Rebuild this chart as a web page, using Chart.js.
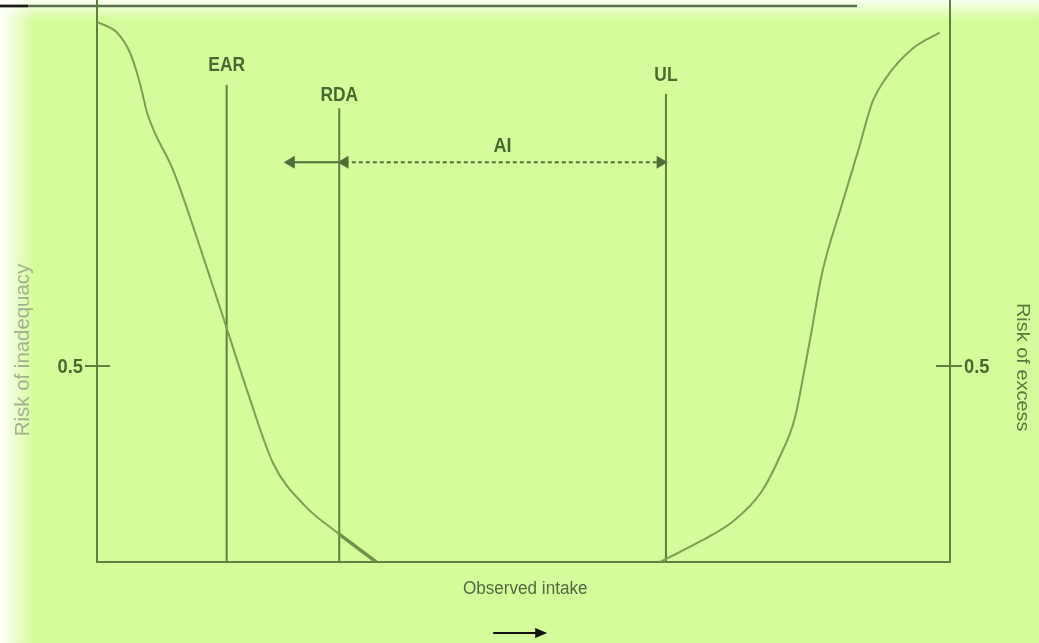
<!DOCTYPE html>
<html>
<head>
<meta charset="utf-8">
<script src="https://cdn.jsdelivr.net/npm/chart.js@4/dist/chart.umd.min.js"></script>
<style>
  body { margin: 0; background: #d5fc9a; }
  #wrap { width: 1039px; height: 643px; position: relative; }
</style>
</head>
<body>
<div id="wrap"><canvas id="chart"></canvas></div>
<script>
// intake runs 0..100 across the box, risk 0..~1.43 up it
const inadequacyX = [0, 2.34, 3.92, 5.1, 5.89, 9.05, 12.6, 15.17, 17.73, 20.69, 24.44, 28.39];
const inadequacyY = [1.378, 1.351, 1.297, 1.216, 1.145, 0.993, 0.769, 0.599, 0.429, 0.25, 0.142, 0.071];
const tailX = [28.39, 32.73];
const tailY = [0.071, 0];
const excessX = [66.0, 70.75, 74.7, 77.86, 79.84, 81.8, 82.79, 83.78, 84.96, 87.33, 89.31, 90.88, 92.46, 95.62, 98.78];
const excessY = [0, 0.053, 0.106, 0.178, 0.259, 0.366, 0.473, 0.59, 0.733, 0.912, 1.055, 1.172, 1.234, 1.31, 1.351];

const refNames = ['EAR', 'RDA', 'UL'];
const refX = [15.2, 28.4, 66.7];
const refTop = [1.217, 1.158, 1.194];
const refLabelY = [1.268, 1.19, 1.242];

const aiLabel = 'AI';
const aiY = 1.02;
const aiLabelY = 1.061;
const leftArrowEnd = 22.1;
const riskTick = 0.5;
const xTitle = 'Observed intake';
const leftTitle = 'Risk of inadequacy';
const rightTitle = 'Risk of excess';

const lineCol = '#5d7f42';
const curveCol = '#76a253';
const textCol = '#4a6830';
const headInset = 0.65;
const FONT = '"Liberation Sans", Arial, sans-serif';

const pts = (xs, ys) => xs.map((x, i) => ({ x: x, y: ys[i] }));

// text squeezed sideways, the source uses a narrow face
function narrowText(ctx, txt, x, y, sx) {
  ctx.save();
  ctx.translate(x, y);
  ctx.scale(sx, 1);
  ctx.fillText(txt, 0, 0);
  ctx.restore();
}

const refSets = refNames.map((n, i) => ({
  label: n,
  data: [{ x: refX[i], y: 0 }, { x: refX[i], y: refTop[i] }],
  showLine: true,
  borderColor: lineCol, borderWidth: 2, pointRadius: 0
}));

const backdrop = {
  id: 'backdrop',
  beforeDraw(chart) {
    const ctx = chart.ctx, w = chart.width, h = chart.height;
    ctx.save();
    ctx.fillStyle = '#d5fc9a';
    ctx.fillRect(0, 0, w, h);
    let g = ctx.createLinearGradient(0, 0, 0, 20);
    g.addColorStop(0, 'rgba(255,255,255,0.85)');
    g.addColorStop(1, 'rgba(255,255,255,0)');
    ctx.fillStyle = g;
    ctx.fillRect(0, 0, w, 20);
    g = ctx.createLinearGradient(0, 0, 34, 0);
    g.addColorStop(0, 'rgba(255,255,255,0.95)');
    g.addColorStop(1, 'rgba(255,255,255,0)');
    ctx.fillStyle = g;
    ctx.fillRect(0, 0, 34, h);
    // rule across the top
    ctx.strokeStyle = '#5c6e4c';
    ctx.lineWidth = 2.5;
    ctx.beginPath(); ctx.moveTo(0, 6); ctx.lineTo(857, 6); ctx.stroke();
    ctx.strokeStyle = '#1a1a1a';
    ctx.beginPath(); ctx.moveTo(0, 6); ctx.lineTo(28, 6); ctx.stroke();
    // box
    const a = chart.chartArea;
    ctx.strokeStyle = lineCol;
    ctx.lineWidth = 2;
    ctx.beginPath();
    ctx.moveTo(a.left, a.top); ctx.lineTo(a.left, a.bottom);
    ctx.lineTo(a.right, a.bottom); ctx.lineTo(a.right, a.top);
    ctx.stroke();
    ctx.restore();
  },
  afterDatasetsDraw(chart) {
    const ctx = chart.ctx, a = chart.chartArea;
    const xs = chart.scales.x, ys = chart.scales.y;
    ctx.save();
    // 0.5 ticks
    const ty = ys.getPixelForValue(riskTick);
    ctx.strokeStyle = lineCol; ctx.lineWidth = 2;
    ctx.beginPath();
    ctx.moveTo(a.left - 12, ty); ctx.lineTo(a.left + 13, ty);
    ctx.moveTo(a.right - 14, ty); ctx.lineTo(a.right + 12, ty);
    ctx.stroke();
    ctx.fillStyle = textCol;
    ctx.font = 'bold 20px ' + FONT;
    ctx.textBaseline = 'middle';
    ctx.textAlign = 'right';
    narrowText(ctx, String(riskTick), a.left - 14, ty + 1, 0.92);
    ctx.textAlign = 'left';
    narrowText(ctx, String(riskTick), a.right + 14, ty + 1, 0.92);
    // reference labels
    ctx.font = 'bold 20px ' + FONT;
    ctx.textAlign = 'center';
    refNames.forEach((n, i) => {
      narrowText(ctx, n, xs.getPixelForValue(refX[i]), ys.getPixelForValue(refLabelY[i]), 0.87);
    });
    narrowText(ctx, aiLabel, xs.getPixelForValue((refX[1] + refX[2]) / 2), ys.getPixelForValue(aiLabelY), 0.9);
    // axis titles
    ctx.fillStyle = '#536a43';
    ctx.font = '18px ' + FONT;
    narrowText(ctx, xTitle, xs.getPixelForValue(50.2), a.bottom + 27, 0.95);
    ctx.save();
    ctx.translate(23, ys.getPixelForValue(0.541));
    ctx.rotate(-Math.PI / 2);
    ctx.fillStyle = '#a3b190';
    ctx.font = '20px ' + FONT;
    narrowText(ctx, leftTitle, 0, 0, 1.02);
    ctx.restore();
    ctx.save();
    ctx.translate(1022, ys.getPixelForValue(0.497));
    ctx.rotate(Math.PI / 2);
    ctx.fillStyle = '#557a3f';
    ctx.font = '19px ' + FONT;
    narrowText(ctx, rightTitle, 0, 0, 1.05);
    ctx.restore();
    // direction arrow under the title
    const cx = xs.getPixelForValue(50.2), ay = a.bottom + 71;
    ctx.strokeStyle = '#111'; ctx.fillStyle = '#111'; ctx.lineWidth = 2;
    ctx.beginPath(); ctx.moveTo(cx - 32, ay); ctx.lineTo(cx + 14, ay); ctx.stroke();
    ctx.beginPath(); ctx.moveTo(cx + 22, ay); ctx.lineTo(cx + 10, ay - 5); ctx.lineTo(cx + 10, ay + 5); ctx.closePath(); ctx.fill();
    ctx.restore();
  }
};

new Chart(document.getElementById('chart'), {
  type: 'scatter',
  data: {
    datasets: [
      { label: 'inadequacy', data: pts(inadequacyX, inadequacyY), showLine: true,
        borderColor: curveCol, borderWidth: 2, pointRadius: 0, cubicInterpolationMode: 'monotone' },
      { label: 'tail', data: pts(tailX, tailY), showLine: true,
        borderColor: '#6a9448', borderWidth: 3.5, pointRadius: 0 },
      { label: 'excess', data: pts(excessX, excessY), showLine: true,
        borderColor: curveCol, borderWidth: 2, pointRadius: 0, cubicInterpolationMode: 'monotone' },
      ...refSets,
      { label: 'below RDA', showLine: true,
        data: [{ x: refX[1], y: aiY }, { x: leftArrowEnd + headInset, y: aiY }],
        borderColor: '#4f6e38', borderWidth: 2,
        pointStyle: 'triangle', pointRadius: [0, 5.5], rotation: [0, 270],
        pointBackgroundColor: '#4f6e38', pointBorderColor: '#4f6e38' },
      { label: 'AI', showLine: true,
        data: [{ x: refX[1] + headInset, y: aiY }, { x: refX[2] - headInset, y: aiY }],
        borderColor: '#4f6e38', borderWidth: 2, borderDash: [4, 3],
        pointStyle: 'triangle', pointRadius: 5.5, rotation: [270, 90],
        pointBackgroundColor: '#4f6e38', pointBorderColor: '#4f6e38' }
    ]
  },
  options: {
    responsive: true,
    maintainAspectRatio: false,
    animation: false,
    layout: { autoPadding: false, padding: { left: 97, right: 89, top: 0, bottom: 81 } },
    plugins: { legend: { display: false }, tooltip: { enabled: false } },
    scales: {
      x: { type: 'linear', min: 0, max: 100, display: false },
      y: { type: 'linear', min: 0, max: 1.434, display: false }
    }
  },
  plugins: [backdrop]
});
</script>
</body>
</html>
